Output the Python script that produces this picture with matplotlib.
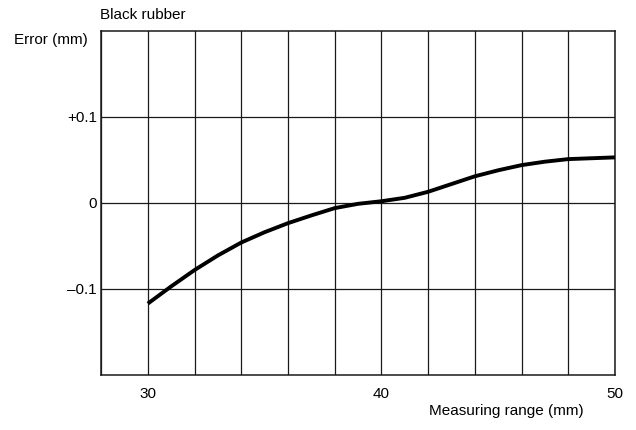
import matplotlib
matplotlib.use("Agg")
import matplotlib.pyplot as plt

plt.rcParams['font.family'] = ['Liberation Sans', 'DejaVu Sans']

# Measuring range (mm) and corresponding error (mm) for black rubber
distance = [30, 31, 32, 33, 34, 35, 36, 37, 38, 39, 40,
            41, 42, 43, 44, 45, 46, 47, 48, 49, 50]
error = [-0.117, -0.097, -0.078, -0.061, -0.046, -0.034, -0.0235, -0.0145,
         -0.006, -0.001, 0.002,
         0.006, 0.013, 0.022, 0.031, 0.038, 0.044, 0.048, 0.051, 0.052, 0.053]

x_ticks = [30, 40, 50]
x_tick_labels = ["30", "40", "50"]
y_ticks = [0.1, 0.0, -0.1]
y_tick_labels = ["+0.1", "0", "\u20130.1"]

fig = plt.figure(figsize=(6.36, 4.30), dpi=100)
ax = fig.add_axes([0.159, 0.128, 0.808, 0.800])

# grid every 2 mm horizontally and 0.1 mm vertically
for gx in range(28, 51, 2):
    ax.axvline(gx, color="#1a1a1a", lw=0.9, zorder=1)
for gy in [-0.1, 0.0, 0.1]:
    ax.axhline(gy, color="#1a1a1a", lw=0.9, zorder=1)

ax.plot(distance, error, color="black", lw=2.8, solid_capstyle="butt",
        solid_joinstyle="round", zorder=3)

ax.set_xlim(28, 50)
ax.set_ylim(-0.2, 0.2)
ax.set_xticks(x_ticks)
ax.set_xticklabels(x_tick_labels)
ax.set_yticks(y_ticks)
ax.set_yticklabels(y_tick_labels)
ax.tick_params(length=0, labelsize=11)
ax.tick_params(axis="y", pad=3)
ax.tick_params(axis="x", pad=9)
for sp in ax.spines.values():
    sp.set_linewidth(1.1)
    sp.set_color("#1a1a1a")

fig.text(0.138, 0.908, "Error (mm)", ha="right", va="center", fontsize=11)
fig.text(0.157, 0.965, "Black rubber", ha="left", va="center", fontsize=11)
fig.text(0.917, 0.044, "Measuring range (mm)", ha="right", va="center", fontsize=11)

fig.savefig("out.png", dpi=100, facecolor="white")
